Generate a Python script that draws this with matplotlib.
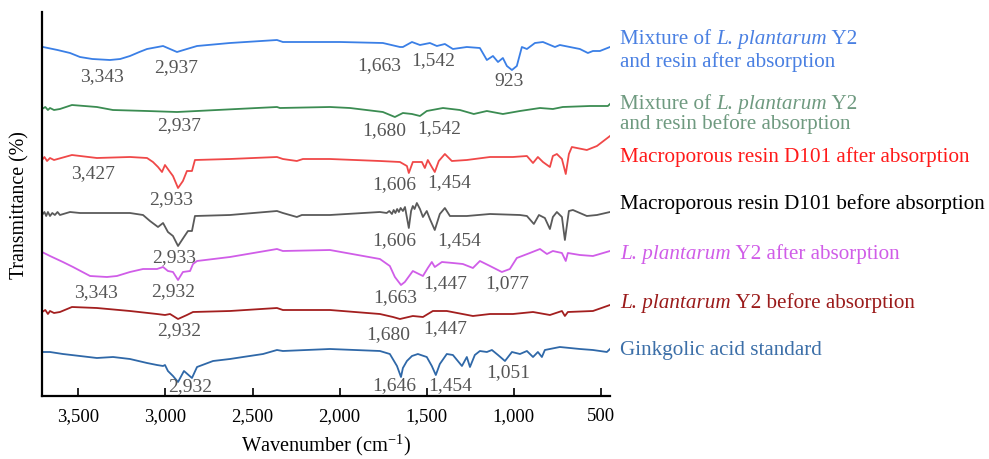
import matplotlib
matplotlib.use("Agg")
import matplotlib.pyplot as plt

plt.rcParams['font.family'] = ['Liberation Serif', 'DejaVu Serif']
plt.rcParams['mathtext.fontset'] = 'custom'
plt.rcParams['mathtext.rm'] = 'Liberation Serif'

# spectra: wavenumber (cm-1) and offset transmittance (a.u.)
mix_after_wn = [3709, 3703, 3620, 3548, 3491, 3420, 3319, 3260, 3204, 3150, 3106, 3014, 2934, 2877,
                2819, 2630, 2360, 2326, 2056, 1998, 1752, 1654, 1637, 1585, 1539, 1482, 1442, 1396,
                1350, 1270, 1195, 1155, 1120, 1091, 1063, 1040, 1011, 983, 954, 925, 879, 833, 764,
                736, 621, 575, 546, 506, 448]
mix_after_t = [412, 412, 409, 406, 402, 400, 399, 400, 403, 407, 410, 413, 407, 410,
               413, 416, 419, 417, 417, 417, 416, 412, 412, 417, 414, 416, 413, 415,
               410, 412, 411, 399, 403, 397, 401, 393, 389, 393, 412, 410, 416, 417, 412,
               414, 410, 406, 408, 408, 412]

mix_before_wn = [3709, 3690, 3675, 3663, 3640, 3606, 3537, 3394, 3302, 3106, 2934, 2819, 2360, 2343,
                 2056, 1941, 1752, 1683, 1637, 1585, 1539, 1500, 1407, 1310, 1230, 1155, 1063, 965,
                 850, 776, 719, 563, 460, 448]
mix_before_t = [350, 352, 349, 351, 349, 350, 354, 352, 349, 348, 347, 348, 352, 351,
                352, 351, 347, 342, 346, 345, 343, 348, 351, 349, 345, 348, 345, 348,
                351, 350, 352, 353, 353, 355]

resin_after_wn = [3709, 3695, 3680, 3663, 3640, 3537, 3394, 3204, 3106, 3072, 3043, 3020, 3003, 2974,
                  2957, 2928, 2900, 2877, 2848, 2831, 2630, 2360, 2326, 2246, 2211, 2056, 1769, 1654,
                  1614, 1603, 1580, 1528, 1511, 1494, 1471, 1454, 1431, 1396, 1356, 1270, 1137, 1005,
                  925, 890, 862, 833, 793, 776, 753, 724, 702, 684, 667, 581, 523, 448]
resin_after_t = [299, 302, 298, 301, 299, 304, 301, 302, 301, 297, 292, 287, 294, 287,
                 283, 271, 278, 288, 288, 299, 300, 302, 300, 298, 300, 300, 298, 297,
                 293, 286, 297, 297, 291, 299, 292, 287, 298, 305, 298, 299, 302, 302,
                 303, 296, 302, 297, 292, 303, 305, 300, 285, 305, 312, 309, 313, 323]

resin_before_wn = [3709, 3695, 3685, 3675, 3663, 3650, 3635, 3620, 3606, 3548, 3491, 3204, 3129, 3089,
                   3043, 3014, 2986, 2957, 2928, 2894, 2871, 2848, 2831, 2630, 2360, 2326, 2246, 2217,
                   2056, 1769, 1730, 1715, 1700, 1690, 1680, 1670, 1660, 1650, 1637, 1625, 1603, 1590,
                   1580, 1570, 1557, 1539, 1522, 1500, 1482, 1454, 1425, 1396, 1367, 1270, 1137, 965,
                   925, 885, 856, 822, 793, 776, 753, 724, 707, 684, 661, 581, 523, 448]
resin_before_t = [244, 247, 243, 247, 243, 246, 244, 247, 244, 247, 246, 246, 244, 238,
                  232, 236, 227, 223, 213, 222, 228, 228, 243, 244, 248, 246, 242, 244,
                  244, 247, 246, 248, 245, 249, 246, 250, 247, 251, 248, 252, 231, 248,
                  253, 250, 256, 250, 242, 248, 240, 229, 245, 251, 243, 243, 245, 244,
                  243, 235, 244, 241, 230, 242, 247, 242, 219, 248, 249, 243, 244, 247]

lp_after_wn = [3709, 3663, 3589, 3531, 3433, 3336, 3279, 3204, 3129, 3049, 3014, 2986, 2957, 2928,
               2900, 2859, 2842, 2819, 2630, 2360, 2326, 2056, 1769, 1712, 1683, 1648, 1626, 1580,
               1522, 1494, 1471, 1454, 1413, 1350, 1293, 1235, 1195, 1137, 1069, 1023, 983, 908,
               850, 810, 776, 724, 702, 690, 621, 546, 448]
lp_after_t = [207, 203, 197, 192, 183, 182, 183, 187, 190, 190, 192, 188, 187, 179,
              187, 188, 195, 198, 202, 210, 208, 209, 200, 193, 182, 174, 177, 188,
              183, 191, 197, 192, 197, 196, 195, 191, 198, 193, 187, 190, 201, 206,
              210, 205, 208, 206, 198, 206, 204, 203, 208]

lp_before_wn = [3709, 3690, 3675, 3663, 3640, 3606, 3537, 3394, 3204, 3049, 3003, 2974, 2928, 2877,
                2842, 2630, 2360, 2326, 2056, 1769, 1694, 1654, 1580, 1522, 1465, 1385, 1235, 1137,
                1005, 890, 793, 724, 707, 690, 546, 448]
lp_before_t = [147, 149, 145, 148, 146, 147, 152, 151, 148, 145, 144, 145, 140, 144,
               147, 148, 151, 149, 149, 145, 142, 140, 143, 142, 148, 148, 143, 145,
               145, 147, 144, 148, 143, 147, 148, 154]

ga_wn = [3709, 3663, 3589, 3491, 3394, 3301, 3204, 3106, 3049, 3014, 3003, 2986, 2957, 2928,
         2894, 2848, 2819, 2727, 2630, 2555, 2440, 2360, 2326, 2056, 1769, 1712, 1671, 1648,
         1637, 1614, 1585, 1551, 1500, 1471, 1448, 1425, 1385, 1350, 1298, 1270, 1252, 1224,
         1195, 1155, 1126, 1091, 1051, 1011, 965, 925, 890, 862, 839, 822, 736, 621, 546, 466, 448]
ga_t = [107, 107, 105, 103, 101, 102, 100, 96, 94, 93, 94, 88, 83, 77,
        88, 81, 92, 98, 100, 102, 105, 109, 108, 110, 108, 105, 93, 82,
        91, 98, 103, 105, 102, 93, 84, 95, 105, 104, 93, 102, 92, 104,
        108, 107, 109, 104, 98, 107, 105, 108, 102, 107, 102, 109, 112, 110, 109, 107, 110]

series = [
    (mix_after_wn, mix_after_t, '#3a7fe6'),
    (mix_before_wn, mix_before_t, '#3b8c52'),
    (resin_after_wn, resin_after_t, '#f04848'),
    (resin_before_wn, resin_before_t, '#5a5a5a'),
    (lp_after_wn, lp_after_t, '#d05de8'),
    (lp_before_wn, lp_before_t, '#a31f1f'),
    (ga_wn, ga_t, '#2f68a8'),
]

# peak labels: text, wavenumber, height
peaks = [
    ('3,343', 3362, 383), ('2,937', 2937, 392), ('1,663', 1772, 394), ('1,542', 1465, 399), ('923', 1028, 378),
    ('2,937', 2920, 334), ('1,680', 1746, 329), ('1,542', 1427, 331),
    ('3,427', 3413, 286), ('2,933', 2966, 260), ('1,606', 1686, 275), ('1,454', 1373, 277),
    ('2,933', 2951, 202), ('1,606', 1686, 219), ('1,454', 1316, 219),
    ('3,343', 3399, 167), ('2,932', 2957, 168), ('1,663', 1680, 162), ('1,447', 1396, 176), ('1,077', 1040, 176),
    ('2,932', 2923, 129), ('1,680', 1723, 125), ('1,447', 1396, 131),
    ('2,932', 2860, 73), ('1,646', 1689, 74), ('1,454', 1364, 74), ('1,051', 1034, 87),
]

# right-hand legend texts: list of (segment, italic) per line, colour, baseline height
names = [
    ([[('Mixture of ', False), ('L. plantarum', True), (' Y2', False)],
      [('and resin after absorption', False)]], '#4a80e2', [416, 393]),
    ([[('Mixture of ', False), ('L. plantarum', True), (' Y2', False)],
      [('and resin before absorption', False)]], '#6f9a80', [351, 331]),
    ([[('Macroporous resin D101 after absorption', False)]], '#ff1a1a', [298]),
    ([[('Macroporous resin D101 before absorption', False)]], '#000000', [251]),
    ([[('L. plantarum', True), (' Y2 after absorption', False)]], '#d05de8', [201]),
    ([[('L. plantarum', True), (' Y2 before absorption', False)]], '#9b1b1b', [152]),
    ([[('Ginkgolic acid standard', False)]], '#3c6fa8', [105]),
]

fig = plt.figure(figsize=(9.89, 4.6), dpi=100)
ax = fig.add_axes([42 / 989, 63 / 460, 568 / 989, 384 / 460])

for wn, t, c in series:
    ax.plot(wn, t, color=c, lw=1.3)

for txt, x, y in peaks:
    ax.text(x, y, txt, ha='center', va='center', fontsize=14, color='#555555')

ax.set_xlim(3709, 448)
ax.set_ylim(63, 447)
ax.set_xticks([3500, 3000, 2500, 2000, 1500, 1000, 500])
ax.set_xticklabels(['3,500', '3,000', '2,500', '2,000', '1,500', '1,000', '500'])
ax.set_yticks([])
ax.tick_params(axis='x', direction='in', length=6, width=1.2, labelsize=13.5, pad=8)
ax.spines['top'].set_visible(False)
ax.spines['right'].set_visible(False)
ax.spines['left'].set_linewidth(1.6)
ax.spines['bottom'].set_linewidth(1.6)
ax.set_xlabel('Wavenumber (cm$^{-1}$)', fontsize=14.7, labelpad=5)
ax.set_ylabel('Transmittance (%)', fontsize=14.3, labelpad=9)

for lines, c, ys in names:
    for segs, y in zip(lines, ys):
        prev = None
        for s, it in segs:
            style = 'italic' if it else 'normal'
            if prev is None:
                prev = fig.text(620 / 989, y / 460, s, color=c, fontsize=15.2,
                                style=style, va='baseline', ha='left')
            else:
                prev = ax.annotate(s, xy=(1, y / 460), xycoords=(prev, 'figure fraction'),
                                   va='baseline', ha='left', color=c, fontsize=15.2,
                                   style=style, annotation_clip=False)

fig.savefig('out.png', dpi=100)
